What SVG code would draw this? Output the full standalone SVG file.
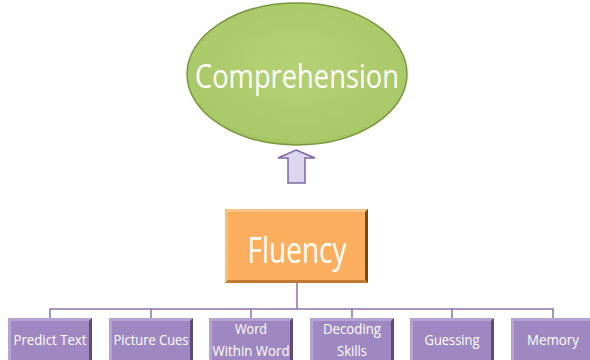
<svg xmlns="http://www.w3.org/2000/svg" width="590" height="360" viewBox="0 0 590 360">
<defs>
<radialGradient id="gEll" cx="0.5" cy="0.45" r="0.6">
<stop offset="0" stop-color="#b5d176"/>
<stop offset="0.85" stop-color="#aac968"/>
<stop offset="1" stop-color="#98b855"/>
</radialGradient>
<style>
.conn{fill:none;stroke:#8a72ad;stroke-width:1.5}
.pbox{fill:#9f88c2}
.plt{fill:#b5a4d2}
.pdk{fill:#5e4a7d}
.ptxt{font-family:"Open Sans","Liberation Sans",sans-serif;font-size:14px;fill:#ffffff;text-anchor:middle}
</style>
</defs>
<rect width="590" height="360" fill="#ffffff"/>

<g id="comprehension">
<ellipse cx="297" cy="74" rx="110" ry="71" fill="url(#gEll)" stroke="#7a973f" stroke-width="1.5"/>
<text x="297" y="88" font-family="'Open Sans','Liberation Sans',sans-serif" font-size="32" fill="#ffffff" text-anchor="middle" textLength="204" lengthAdjust="spacingAndGlyphs">Comprehension</text>
</g>

<g id="arrow">
<polygon points="296,150 315,158 305,158 305,183 288,183 288,158 278,158" fill="#dcd5ee" stroke="#7d65a5" stroke-width="1.5" stroke-linejoin="miter"/>
</g>

<g id="fluency">
<rect x="225" y="209" width="143" height="74" fill="#fbae5d"/>
<polygon points="225,209 368,209 365,212 228,212" fill="#fcc589"/>
<polygon points="225,209 228,212 228,280 225,283" fill="#fcbd78"/>
<polygon points="368,209 368,283 365,280 365,212" fill="#7a4a14"/>
<polygon points="225,283 368,283 365,280 228,280" fill="#c07a30"/>
<text x="297" y="263" font-family="'Open Sans','Liberation Sans',sans-serif" font-size="37" fill="#ffffff" text-anchor="middle" textLength="99" lengthAdjust="spacingAndGlyphs">Fluency</text>
</g>

<g id="connectors">
<path class="conn" d="M297,283 V309"/>
<path class="conn" d="M50,318 V309 H553 V318"/>
<path class="conn" d="M151,309 V318 M251,309 V318 M352,309 V318 M452,309 V318"/>
</g>

<g id="predict-text">
<rect class="pbox" x="8" y="318" width="84" height="45"/>
<polygon class="plt" points="8,318 92,318 89,321 11,321"/>
<polygon class="pdk" points="92,318 92,363 89,363 89,321"/>
<polygon class="plt" points="8,318 11,321 11,363 8,363"/>
<text class="ptxt" x="50" y="345" textLength="73" lengthAdjust="spacingAndGlyphs">Predict Text</text>
</g>

<g id="picture-cues">
<rect class="pbox" x="109" y="318" width="84" height="45"/>
<polygon class="plt" points="109,318 193,318 190,321 112,321"/>
<polygon class="pdk" points="193,318 193,363 190,363 190,321"/>
<polygon class="plt" points="109,318 112,321 112,363 109,363"/>
<text class="ptxt" x="151" y="345" textLength="75" lengthAdjust="spacingAndGlyphs">Picture Cues</text>
</g>

<g id="word-within-word">
<rect class="pbox" x="209" y="318" width="84" height="45"/>
<polygon class="plt" points="209,318 293,318 290,321 212,321"/>
<polygon class="pdk" points="293,318 293,363 290,363 290,321"/>
<polygon class="plt" points="209,318 212,321 212,363 209,363"/>
<text class="ptxt" x="251" y="334" textLength="32" lengthAdjust="spacingAndGlyphs">Word</text>
<text class="ptxt" x="251" y="356" textLength="77" lengthAdjust="spacingAndGlyphs">Within Word</text>
</g>

<g id="decoding-skills">
<rect class="pbox" x="310" y="318" width="84" height="45"/>
<polygon class="plt" points="310,318 394,318 391,321 313,321"/>
<polygon class="pdk" points="394,318 394,363 391,363 391,321"/>
<polygon class="plt" points="310,318 313,321 313,363 310,363"/>
<text class="ptxt" x="352" y="334" textLength="58" lengthAdjust="spacingAndGlyphs">Decoding</text>
<text class="ptxt" x="352" y="356" textLength="30" lengthAdjust="spacingAndGlyphs">Skills</text>
</g>

<g id="guessing">
<rect class="pbox" x="410" y="318" width="84" height="45"/>
<polygon class="plt" points="410,318 494,318 491,321 413,321"/>
<polygon class="pdk" points="494,318 494,363 491,363 491,321"/>
<polygon class="plt" points="410,318 413,321 413,363 410,363"/>
<text class="ptxt" x="452" y="345" textLength="55" lengthAdjust="spacingAndGlyphs">Guessing</text>
</g>

<g id="memory">
<rect class="pbox" x="511" y="318" width="84" height="45"/>
<polygon class="plt" points="511,318 595,318 592,321 514,321"/>
<polygon class="plt" points="511,318 514,321 514,363 511,363"/>
<text class="ptxt" x="553" y="345" textLength="52" lengthAdjust="spacingAndGlyphs">Memory</text>
</g>
</svg>
